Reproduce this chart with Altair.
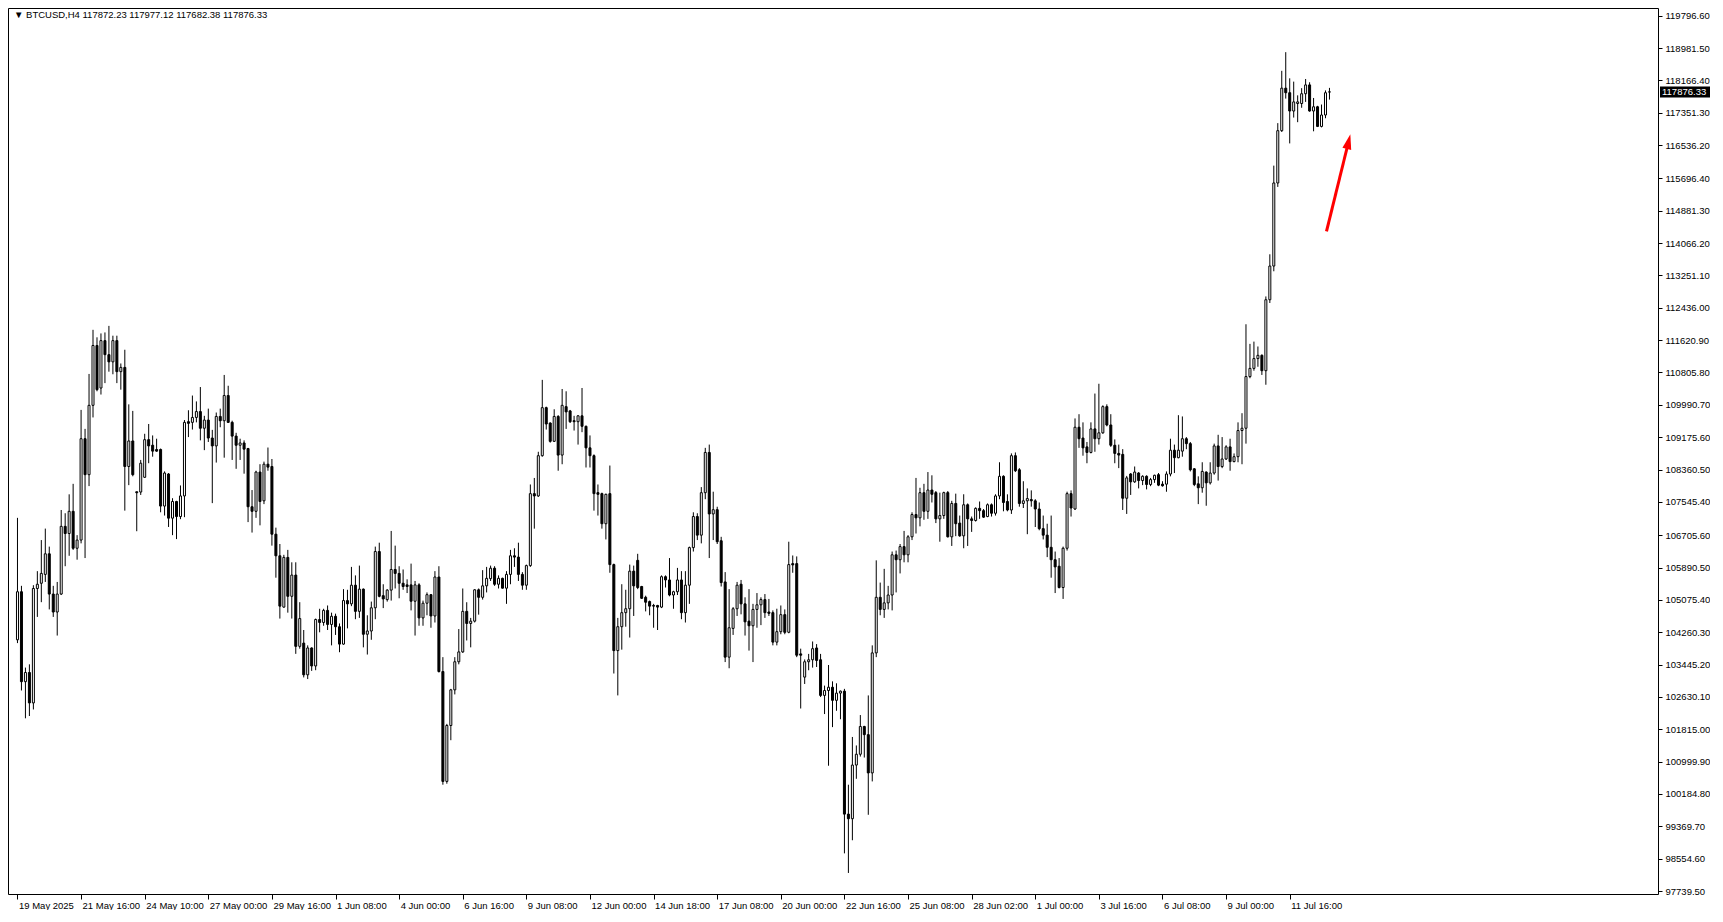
import altair as alt
import pandas as pd

# ---- data (BTCUSD, H4) ----
O = [104070,105281,103015,103246,102480,105363,105495,105718,106237,105223,
     104770,105223,106929,106748,107308,106377,106583,109137,108231,109978,
     111486,110414,111609,111255,111074,111609,110827,110934,108437,109080,
     107800,107794,108165,109113,108973,108865,108865,107440,108248,107135,
     107555,107176,107695,109566,109549,109673,109821,109401,109607,109154,
     108956,109698,109590,110225,109549,109203,108973,109030,108890,107423,
     107308,108297,107572,108495,108437,106731,106187,104894,106146,105166,
     105701,103905,103987,103188,103864,103411,104581,104507,104811,104457,
     104663,104399,103962,105058,104976,105446,104787,105347,104210,104292,
     104877,106294,105182,105083,105322,105842,105743,105495,105454,105454,
     105042,105454,104622,104992,105207,104671,105652,103270,100502,101911,
     102809,103517,103765,104787,104482,104540,105330,105141,105430,105611,
     105874,105470,105619,105371,105718,106187,106154,105718,105446,105940,
     107753,107695,108709,109920,109533,109071,109698,108725,109945,109837,
     109591,109566,109714,109450,108907,108709,107778,107753,106995,107753,
     105965,103798,104400,104754,104853,105800,106072,105413,105141,105034,
     104935,104935,104894,105660,105578,105199,105281,105578,104754,105446,
     106393,107176,106707,107777,108791,107242,107349,106566,105528,103633,
     104357,104852,105471,104976,104540,104424,104836,104952,105083,104770,
     104754,104012,104275,104704,104259,105990,105990,103715,103130,103517,
     103567,103864,103567,102669,102792,102875,102545,102727,102776,99678,
     99562,100914,101186,101886,101680,100716,103740,105141,104836,105001,
     105199,106212,106088,106418,106212,106665,107226,107143,107777,107308,
     107844,107778,107118,107201,107778,106665,107506,107011,106690,107473,
     107118,107077,107382,107324,107176,107473,107259,107695,108190,107555,
     107341,108709,108355,107506,107572,107605,107572,107366,106871,106707,
     106401,106088,105924,105388,106377,107753,107366,109426,109154,108931,
     108791,109384,109137,109285,109945,109483,108972,108767,108742,107637,
     108248,108050,108272,108083,108190,107984,108107,108231,107992,107992,
     108247,108848,108659,108824,109137,109013,108379,108000,107901,108297,
     108025,108272,108955,108436,108626,108931,108560,108684,109343,109401,
     110703,110909,111156,111238,110851,112639,113488,115581,116899,117970,
     117855,117394,117583,117583,117830,118052,117394,117501,117006,117294,
     117872.23]
H = [107143,105430,103370,103452,105446,105800,106583,106872,106418,105430,
     105528,107341,107259,107736,108000,106707,109863,109385,110769,111881,
     111692,111790,111815,111980,111733,111733,111033,111379,110003,109838,
     107802,108602,109261,109508,109220,109137,108890,108314,108272,107638,
     107572,107959,109607,109854,110225,110077,110439,109714,109895,109360,
     109797,109895,110744,110472,109591,109286,109137,109096,108906,107844,
     108330,108495,108560,108915,108626,106896,106484,106212,106336,106023,
     106023,105018,104317,103930,103880,104605,104852,104852,104935,104754,
     104729,104482,105347,105330,105907,105693,105940,105363,104688,105033,
     106418,106517,105470,105347,106813,106443,105924,105842,105594,105990,
     105553,105495,105058,105264,105223,105800,105924,103633,101952,102834,
     103633,104341,105363,105017,104622,105347,105363,105825,105907,105940,
     105924,105693,105635,105800,106336,106377,106517,105775,105965,107984,
     108148,108808,110620,109945,109549,109879,109731,110390,110332,109862,
     109714,109731,110415,109467,109220,108742,107984,107778,107753,108461,
     105990,104622,105471,105331,105965,105940,106237,105429,105182,105059,
     104976,104951,105693,105693,106130,105306,105882,105800,105800,106418,
     107283,107259,107918,108907,108989,107802,107423,106665,105776,105347,
     104894,105528,105578,105141,105347,104976,105248,105141,105223,105100,
     104812,104853,104935,104836,106542,106195,106171,103847,103575,103715,
     104028,103962,103715,102916,103435,103023,102974,102792,102834,100419,
     101622,101408,102174,101903,102669,103930,106072,105512,105858,105429,
     106294,106319,106484,106814,106707,107283,108149,107901,108000,108297,
     108215,107819,107778,107802,107819,107572,107753,107201,107737,107506,
     107176,107407,107555,107366,107506,107506,107737,108544,108215,107736,
     108767,108791,108396,108066,107885,107835,107613,107531,107201,106995,
     107201,106294,106130,106418,107802,107835,109648,109755,109549,109055,
     109549,110275,110522,109978,110003,109755,109120,108989,108874,108200,
     108272,108437,108297,108215,108215,108149,108231,108272,108066,108313,
     109137,108989,109730,109698,109178,109055,108396,108189,108544,108313,
     108544,109013,109236,109178,108972,109137,108766,109549,109780,112021,
     111527,111584,111461,111263,112722,113784,116018,117089,118407,118877,
     118218,118135,117789,117970,118201,118119,117723,117525,117558,117913,
     117977.12]
L = [103987,102793,102092,102150,102315,104647,105018,105528,104836,104647,
     104177,105198,105924,106187,106336,106089,106500,106130,107943,109673,
     110332,110250,110538,110826,110761,110538,110373,107325,107967,108190,
     106806,107720,108149,108520,108684,108808,107283,107201,106913,106707,
     106608,107110,107160,109178,109368,109549,109096,108849,109055,107514,
     108536,109426,108659,109533,108602,108379,108602,108256,107036,106772,
     107143,106954,107489,108330,106443,105635,104605,104877,104754,104605,
     103716,103847,103122,103081,103287,103304,104259,104424,104317,103930,
     104193,103757,103946,104358,104918,104589,104622,103880,103699,104070,
     104589,105141,104869,105033,105058,105363,105116,105330,105248,104811,
     104177,104424,104424,104688,104374,104506,103246,100419,100444,101540,
     102694,103452,103740,104053,103880,104507,104704,105083,105264,105553,
     105429,105363,105363,104976,105470,105907,105553,105330,105330,105907,
     106871,107670,108684,109368,109038,109055,108330,108494,109384,109533,
     109343,108989,109302,108412,108412,107325,107201,106871,106599,105759,
     103221,102669,103822,104400,104127,104671,105347,105100,104786,104688,
     104374,104317,104869,105388,105166,104852,105199,104589,104506,104976,
     106294,106583,106500,107613,106130,106583,106484,105413,103509,103353,
     104193,104671,104712,104177,103798,103509,104374,104440,104622,104671,
     103930,103930,104210,104210,104235,105759,103633,102339,102957,103303,
     103369,103385,102627,102199,100897,101870,102282,102068,98689,98195,
     99019,100568,101128,101103,99661,100502,103633,104688,104622,104836,
     104811,105264,105743,106023,106023,106583,106748,106929,107094,107118,
     107530,107011,106542,107118,106649,106435,106681,106665,106377,106435,
     106789,107050,107118,107143,107160,107176,107201,107613,107308,107308,
     107242,108297,107424,107391,106731,107424,106912,106830,106599,106154,
     105635,105248,105364,105100,106319,107176,107341,108907,108709,108519,
     108767,108808,108989,109261,109450,108931,108519,108396,107341,107242,
     107720,108025,107885,107967,107860,107942,108025,107942,107930,107801,
     108189,108272,108643,108684,108873,108313,107942,107489,107777,107448,
     107983,108231,108082,108395,108601,108330,108544,108544,108494,109013,
     110661,110851,110950,110744,110497,112557,113356,115482,116866,117707,
     116578,117229,117113,117476,117624,117377,116883,116990,116982,117212,
     117682.38]
C = [105281,103015,103246,102480,105363,105470,105743,106237,105223,104770,
     105223,106929,106748,107308,106377,106583,109137,108231,109978,111486,
     110373,111609,111255,111074,111609,110827,110934,108437,109080,108231,
     107776,108520,109113,108956,108824,108824,107440,108272,107135,107555,
     107176,107695,109549,109525,109673,109821,109401,109607,109154,108956,
     109698,109590,110225,109549,109203,108973,109030,108874,107423,107308,
     108297,107555,108495,108421,106731,106187,104918,106146,105166,105701,
     103905,104605,103188,103864,103411,104581,104507,104811,104457,104663,
     104399,103962,105059,104976,105446,104787,105347,104210,104292,104877,
     106294,105166,105100,105322,105842,105743,105495,105413,105413,105042,
     105454,104622,104992,105207,104671,105652,103270,100502,101911,102809,
     103517,103765,104787,104482,104540,105330,105141,105430,105619,105874,
     105470,105619,105371,105718,106187,106154,105718,105446,105940,107753,
     107695,108709,109920,109508,109071,109698,108725,109978,109813,109566,
     109566,109714,109450,108907,108709,107753,107736,106995,107736,105965,
     103798,104400,104754,104853,105800,105429,105388,105116,105017,104918,
     104918,104894,105660,105578,105199,105281,105578,104754,105446,106393,
     107176,106707,107777,108791,107242,107349,106542,105512,103633,104374,
     104852,105446,104976,104523,104424,104836,104952,105083,104754,104737,
     104012,104275,104704,104259,105965,105957,103682,103682,103517,103567,
     103847,103550,102669,102792,102875,102545,102727,102776,99678,99562,
     100914,101186,101886,101680,100716,103740,105141,104836,105001,105199,
     106212,106088,106418,106212,106665,107226,107143,107777,107308,107844,
     107737,107118,107201,107778,106665,107506,106995,106690,107473,107118,
     107077,107382,107324,107160,107473,107259,107695,108190,107530,107341,
     108709,108330,107506,107572,107629,107572,107366,106871,106707,106401,
     106088,105907,105388,106377,107753,107391,109426,109137,108907,108791,
     109384,109137,109285,109945,109483,108972,108767,108725,107637,108150,
     108050,108297,108083,108190,107984,108107,108215,107967,107951,108247,
     108848,108659,108848,109137,109013,108354,107984,107901,108313,108025,
     108272,108955,108436,108626,108931,108560,108684,109343,109401,110703,
     110909,111156,111238,110851,112639,113488,115581,116899,117970,117855,
     117394,117624,117624,117830,118052,117394,117501,117006,117294,117855,
     117876.33]

x_labels = ["19 May 2025", "21 May 16:00", "24 May 10:00", "27 May 00:00",
            "29 May 16:00", "1 Jun 08:00", "4 Jun 00:00", "6 Jun 16:00",
            "9 Jun 08:00", "12 Jun 00:00", "14 Jun 18:00", "17 Jun 08:00",
            "20 Jun 00:00", "22 Jun 16:00", "25 Jun 08:00", "28 Jun 02:00",
            "1 Jul 00:00", "3 Jul 16:00", "6 Jul 08:00", "9 Jul 00:00",
            "11 Jul 16:00"]
y_ticks = [119796.60, 118981.50, 118166.40, 117351.30, 116536.20, 115696.40,
           114881.30, 114066.20, 113251.10, 112436.00, 111620.90, 110805.80,
           109990.70, 109175.60, 108360.50, 107545.40, 106705.60, 105890.50,
           105075.40, 104260.30, 103445.20, 102630.10, 101815.00, 100999.90,
           100184.80, 99369.70, 98554.60, 97739.50]
title_text = "\u25bc BTCUSD,H4  117872.23 117977.12 117682.38 117876.33"
last_price = 117876.33
arrow_tail = (329.25, 114363)
arrow_head = (334.66, 116563)

# ---- chart ----
n = len(O)
df = pd.DataFrame({"i": list(range(n)), "o": O, "h": H, "l": L, "c": C})

W, HT = 1650, 886
FONT = "Liberation Sans"
FS = 9.5
xs = alt.Scale(domain=[-1.125, W / 4 - 1.125], nice=False, zero=False)
ys = alt.Scale(domain=[97665, 119990], nice=False, zero=False)

label_expr = "[" + ",".join("'%s'" % s for s in x_labels) + "][round(datum.value/16)]"

x_axis = alt.Axis(values=list(range(0, 16 * len(x_labels), 16)), labelExpr=label_expr,
                  title=None, grid=False, domain=False, ticks=True, tickSize=5,
                  tickColor="black", labelAlign="left", labelBaseline="top",
                  labelOffset=1, labelPadding=1, labelFont=FONT, labelFontSize=FS,
                  labelColor="black", labelOverlap=False, labelFlush=False)
y_axis = alt.Axis(orient="right", values=y_ticks, format=".2f", title=None,
                  grid=False, domain=False, tickSize=4, tickColor="black",
                  labelPadding=3, labelFont=FONT, labelFontSize=FS,
                  labelColor="black", labelOverlap=False, labelFlush=False)


def X(field):
    return alt.X(field, type="quantitative", scale=xs, axis=x_axis)


def Y(field):
    return alt.Y(field, type="quantitative", scale=ys, axis=y_axis)


base = alt.Chart(df)
wick = base.mark_rule(color="black", strokeWidth=1).encode(
    x=X("i"), y=Y("l"), y2="h:Q")
body = base.mark_bar(size=2, stroke="black", strokeWidth=1).encode(
    x=X("i"), y=Y("o"), y2="c:Q",
    fill=alt.condition("datum.c >= datum.o", alt.value("white"), alt.value("black")),
)

title = alt.Chart(pd.DataFrame({"t": [title_text]})).mark_text(
    align="left", baseline="middle", font=FONT, fontSize=FS, color="black"
).encode(text="t:N", x=alt.value(6), y=alt.value(7))

tag_df = pd.DataFrame({"p": [last_price], "t": ["%.2f" % last_price]})
tag_box = alt.Chart(tag_df).mark_point(
    shape="M-1,-0.22L1,-0.22L1,0.22L-1,0.22Z", filled=True, color="black",
    size=2500, opacity=1, strokeWidth=0
).encode(y=Y("p"), x=alt.value(W + 27))
tag_text = alt.Chart(tag_df).mark_text(
    align="left", baseline="middle", font=FONT, fontSize=FS, color="white"
).encode(y=Y("p"), x=alt.value(W + 4), text="t:N")

arr_df = pd.DataFrame({"x": [arrow_tail[0]], "y": [arrow_tail[1]],
                       "x2": [arrow_head[0]], "y2": [arrow_head[1]]})
arrow_line = alt.Chart(arr_df).mark_rule(color="#ff0000", strokeWidth=3).encode(
    x=X("x"), y=Y("y"), x2="x2:Q", y2="y2:Q")
arrow_tip = alt.Chart(arr_df).mark_point(
    shape="M0,-1L0.45,0.5L-0.45,0.5Z", filled=True, color="#ff0000",
    size=400, opacity=1, angle=13.6, strokeWidth=0
).encode(x=X("x2"), y=Y("y2"))

chart = alt.layer(wick, body, arrow_line, arrow_tip, tag_box, tag_text, title).properties(
    width=W, height=HT,
    padding={"left": 0, "top": 0, "right": 0, "bottom": 0},
    background="white",
).configure_view(stroke="black", strokeWidth=1)

chart.save("out.html", embed_options={"renderer": "svg", "actions": False})
